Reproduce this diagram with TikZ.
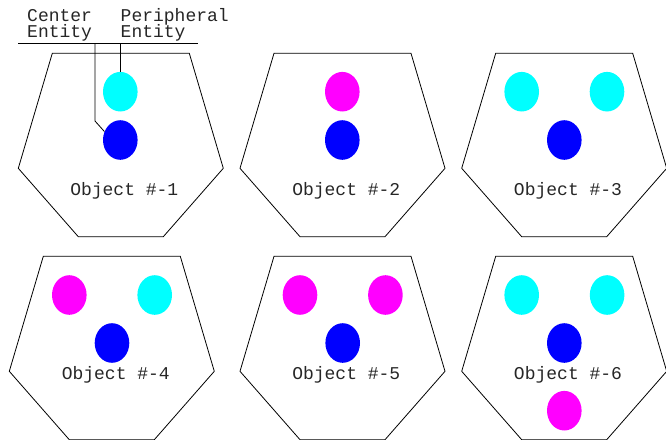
\documentclass[tikz,border=0pt]{standalone}
\usepackage{fontspec}
\setmonofont{Liberation Mono}
\usetikzlibrary{shapes.geometric}
\definecolor{entblue}{RGB}{0,0,255}
\definecolor{entcyan}{RGB}{0,255,255}
\definecolor{entmag}{RGB}{255,0,255}
\tikzset{
  ent/.style={ellipse, minimum width=34.6pt, minimum height=39.6pt, inner sep=0pt, draw=none},
  cent/.style={ent, fill=entblue},
  peri/.style={ent, fill=entcyan},
  perim/.style={ent, fill=entmag},
  lbl/.style={font=\ttfamily\fontsize{18}{18}\selectfont, inner sep=0pt, text=black!85},
  objlbl/.style={lbl, anchor=base},
  toplbl/.style={lbl, anchor=base west},
  hexline/.style={draw=black, line width=0.8pt, line join=miter},
  leader/.style={draw=black, line width=0.8pt},
}
\newcommand\objhex{\draw[hexline] (34,0) -- (171,0) -- (205,115) -- (145,183.4) -- (60,183.4) -- (0,115) -- cycle;}
\begin{document}
\begin{tikzpicture}[x=1pt,y=-1pt]
\useasboundingbox (0,0) rectangle (666,439);
\clip (0,0) rectangle (666,439);

% Row 1
\begin{scope}[shift={(18.3,53.3)}]
  \objhex
  \node[peri] (h1p) at (102,38.4) {};
  \node[cent] (h1c) at (102,86.7) {};
  \node[objlbl] (t1) at (106,142.2) {Object \#-1};
\end{scope}
\begin{scope}[shift={(240,53.3)}]
  \objhex
  \node[perim] (h2p) at (102.3,38.4) {};
  \node[cent] (h2c) at (102.3,86.7) {};
  \node[objlbl] (t2) at (106.3,142.2) {Object \#-2};
\end{scope}
\begin{scope}[shift={(461.7,53.3)}]
  \objhex
  \node[peri] (h3p1) at (60,38.4) {};
  \node[peri] (h3p2) at (145.3,38.4) {};
  \node[cent] (h3c) at (102.6,86.7) {};
  \node[objlbl] (t3) at (106.3,142.2) {Object \#-3};
\end{scope}

% Row 2
\begin{scope}[shift={(9.3,256.3)}]
  \objhex
  \node[perim] (h4p1) at (60,38.7) {};
  \node[peri] (h4p2) at (145.4,38.7) {};
  \node[cent] (h4c) at (102.7,86.7) {};
  \node[objlbl] (t4) at (106.5,123) {Object \#-4};
\end{scope}
\begin{scope}[shift={(240,256.3)}]
  \objhex
  \node[perim] (h5p1) at (60,38.7) {};
  \node[perim] (h5p2) at (145.4,38.7) {};
  \node[cent] (h5c) at (102.7,86.7) {};
  \node[objlbl] (t5) at (106.3,123) {Object \#-5};
\end{scope}
\begin{scope}[shift={(461.7,256.3)}]
  \objhex
  \node[peri] (h6p1) at (60,38.7) {};
  \node[peri] (h6p2) at (145.4,38.7) {};
  \node[cent] (h6c) at (102.6,86.7) {};
  \node[perim] (h6p3) at (102.6,154.4) {};
  \node[objlbl] (t6) at (106.3,123) {Object \#-6};
\end{scope}

% Top labels and leaders
\node[toplbl] (cl1) at (27,21.3) {Center};
\node[toplbl] (cl2) at (27,37.7) {Entity};
\node[toplbl] (pl1) at (120.5,21.3) {Peripheral};
\node[toplbl] (pl2) at (120.5,37.7) {Entity};
\coordinate (hl) at (18.3,43.3);
\coordinate (hr) at (197.7,43.3);
\draw[leader] (hl) -- (hr);
\coordinate (ca) at (95,43.3);
\coordinate (cb) at (95,121);
\draw[leader] (ca) -- (cb) -- (h1c.152);
\coordinate (pa) at (120.3,43.3);
\draw[leader] (pa) -- (h1p.north);
\end{tikzpicture}
\end{document}
